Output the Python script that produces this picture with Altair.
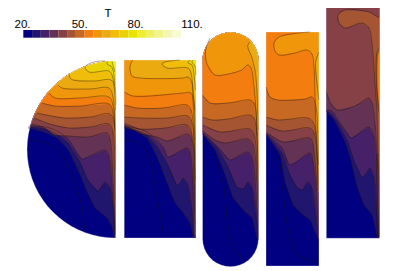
import numpy as np
import pandas as pd
import altair as alt

palette = ["#000080", "#21166e", "#462169", "#643255", "#854146", "#a55532", "#c86923", "#f37d0f",
           "#f0960a", "#ebaa0f", "#f0be0a", "#ebd205", "#e8e400", "#eeee32", "#f0f064", "#f3f38c",
           "#f6f6b4", "#fafad2"]
bar_edges = np.linspace(23.3, 181, 19)
tick_labels = ["20.", "50.", "80.", "110.", "T"]
tick_x = [22.5, 79.7, 135.5, 192, 108]
tick_y = [25, 25, 25, 25, 13.5]

# Contours: (palette index above the line, start mode, points in picture pixels)
p1 = [
 (1, "L", [(28,128),(43,132),(57,138),(68,150),(78,170),(87,192),(95,208),(107,218),(112,227),(114,238)]),
 (2, "L", [(28,127),(45,129),(58,135),(68,143),(80,162),(88,180),(98,191),(105,182),(110,188),(113,207),(115,235)]),
 (3, "L", [(29,126),(50,128),(67,138),(82,159),(88,157),(105,150),(109,157),(112,187),(115,233)]),
 (4, "L", [(31,124),(43,127),(55,135),(69,136),(88,137),(107,133),(110,139),(113,180),(115.5,230)]),
 (5, "L", [(34,118),(50,124),(69,128),(90,127),(109,124),(113,133),(114.5,170),(115.5,200)]),
 (6, "L", [(37,113),(65,118),(90,117),(110,114),(114,122),(115.5,170)]),
 (7, "L", [(42,103),(55,106),(80,106),(109,104),(113,112),(115,150)]),
 (8, "L", [(49,93),(55,98),(80,98),(109,97),(113,105),(115,130)]),
 (9, "L", [(58,85),(62,88),(90,89),(109,88),(113,97),(115,125)]),
 (10, "L", [(69,73),(71,79),(94,81),(111,80),(115,87),(115.5,110)]),
 (11, "T", [(105,61),(94,62),(85,67),(89,72),(109,71),(112,75),(114,85),(115.5,105)]),
 (12, "T", [(108,61),(107,64),(111,66),(113,70),(115,85)]),
 (13, "T", [(112,61),(113,65),(115,72)]),
]
p1_extra = [[(28,139),(43,142),(57,148),(65,160),(75,183),(82,207),(85,232)]]

p2 = [
 (1, "L", [(124.3,128.3),(133,130),(147,138),(157,157),(167,183),(175,203),(183,213),(190,223),(193,237)]),
 (2, "L", [(124.3,127),(147,135),(158,148),(168,165),(177,185),(180,183),(183,178),(188,185),(192,210),(193.5,237)]),
 (3, "L", [(124.3,126),(147,132),(163,147),(168,157),(187,148),(190,153),(193,187),(194,235)]),
 (4, "L", [(124.3,125),(143,134),(157,137),(167,141),(188,134),(192,140),(194,177),(194.7,220)]),
 (5, "L", [(124.3,123),(140,129),(165,128),(187,125),(192,135),(194.5,170),(195,210)]),
 (6, "L", [(124.3,117),(140,118),(167,118),(188,116),(192,122),(195,190)]),
 (7, "L", [(124.3,105),(137,108),(163,108),(187,105),(191,110),(194.5,150),(195.5,180)]),
 (8, "L", [(124.3,92),(133,96),(183,93),(190,92.5),(193,97),(195,160)]),
 (9, "T", [(132.7,60),(130,67),(132,76),(140,78),(183,78),(188,77),(192,83),(193,100),(195,140)]),
 (10, "T", [(180,60),(165,62),(162,64),(167,68),(188,68),(191,73),(193,90),(195,110)]),
 (11, "T", [(190,60),(188,63),(192,65),(194,75),(195.5,90)]),
 (12, "T", [(193,60),(192,62),(195,66),(195.8,75)]),
]
p2_extra = [[(124.3,140),(140,143),(148,155),(157,197),(164,237)]]

p3 = [
 (1, "L", [(203,135),(215,150),(225,175),(233,198),(245,212),(252,218),(256,235),(257.5,240)]),
 (2, "L", [(203,134),(217,148),(228,167),(237,187),(243,189),(248,182),(252,188),(257,222),(258,237)]),
 (3, "L", [(203,133),(218,147),(230,160),(235,158),(248,152),(252,158),(257,212)]),
 (4, "L", [(203,131),(215,140),(225,143),(248,139),(253,145),(257,182)]),
 (5, "L", [(203,125),(220,132),(250,129),(254,134),(257,165)]),
 (6, "L", [(202.5,117),(212,120),(228,119),(250,115),(254,118),(257,135)]),
 (7, "L", [(202.5,95),(210,103),(228,103),(250,100),(254,103),(257,132),(258,170)]),
 (8, "L", [(210,38),(205.7,50),(206.7,63),(215,75),(228,74),(241.7,70),(247.7,65),(251,68),(254,87),(256,110),(257,132),(258,170),(258.3,200)]),
 (9, "T", [(250,42),(247.7,46),(251.7,57),(255,70),(256.7,87),(257.7,110),(258.3,130)]),
]
p3_extra = [[(202.5,142),(213,152),(223,182),(228,225),(235,250),(245,260)]]

p4 = [
 (1, "L", [(266,134.5),(280,155),(285,182),(293,205),(303,215),(310,220),(315,232),(319,240)]),
 (2, "L", [(266,134),(282,153),(290,175),(297,187),(302,190),(308,182),(312,188),(317,225),(318,238)]),
 (3, "L", [(266,133.5),(282,148),(290,165),(310,153),(313,162),(318,218)]),
 (4, "L", [(266,132),(283,142),(310,138),(313,145),(317,192)]),
 (5, "L", [(266,125),(282,131),(310,128),(314,133),(318,190)]),
 (6, "L", [(266,117),(278,120),(308,118),(313,122),(316,133),(318,185)]),
 (7, "L", [(266,87),(270,97),(278,100),(305,99),(312,97),(316,107),(317.7,133),(318.5,165)]),
 (8, "T", [(310,32),(299,33),(279,37),(274,43),(275,51),(279,55),(295,53),(307,50),(312,54),(314,68),(315,95),(316,128),(318,170)]),
 (9, "R", [(319,52),(315.7,62),(317.7,90),(319,100)]),
]
p4_extra = [[(266,145),(277,155),(283,192),(290,238),(298,255),(318,262)]]

p5 = [
 (1, "L", [(326.3,112),(334,120),(344,140),(350,157),(357,187),(364,205),(372,215),(375,227),(377,237)]),
 (2, "L", [(326.3,111),(330,113),(336,120),(347,140),(355,163),(362,177),(365,175),(370,168),(374,177),(377,217),(378.7,237)]),
 (3, "L", [(326.3,110),(332,111),(338,120),(345,130),(351,138),(369,127),(374,137),(377,180),(379,237)]),
 (4, "L", [(326.3,91),(330,102),(337,110),(355,106),(369,98),(372,103),(375,123),(378,170)]),
 (5, "R", [(379,18),(369,12),(345,10),(338,15),(339,23),(345,28),(362,23),(369,28),(372,43),(375,83),(377,113),(378,150),(379,190)]),
 (6, "R", [(379.3,48),(377,52),(376,67),(377,93),(378.7,113)]),
 (7, "R", [(379.3,50),(377.5,55),(377,85),(379,110)]),
]
p5_extra = [[(377,153),(377,237)]]


def rect(x0, x1, y0, y1):
    return [(x0, y0), (x1, y0), (x1, y1), (x0, y1)]


def quarter(cx, cy, r):
    a = np.radians(np.arange(90, 271, 5))
    return [(cx, cy - r)] + [(cx + r * np.cos(t), cy - r * np.sin(t)) for t in a[1:-1]] + [(cx, cy + r)]


def stadium(x0, x1, y0, y1):
    r = (x1 - x0) / 2
    cx = (x0 + x1) / 2
    top = np.radians(np.arange(0, 181, 10))
    pts = [(cx + r * np.cos(t), y0 + r - r * np.sin(t)) for t in top]
    pts += [(cx - r * np.cos(t), y1 - r + r * np.sin(t)) for t in top]
    return pts


def clip(poly, shape):
    xs = [p[0] for p in shape]
    ys = [p[1] for p in shape]
    cx, cy = np.mean(xs), np.mean(ys)
    out = poly
    for i in range(len(shape)):
        a, b = shape[i], shape[(i + 1) % len(shape)]
        side = lambda p: (b[0] - a[0]) * (p[1] - a[1]) - (b[1] - a[1]) * (p[0] - a[0])
        s0 = side((cx, cy))
        inside = lambda p: side(p) * s0 >= 0
        res = []
        for j in range(len(out)):
            p, q = out[j], out[(j + 1) % len(out)]
            ip, iq = inside(p), inside(q)
            if ip:
                res.append(p)
            if ip != iq:
                sp, sq = side(p), side(q)
                t = sp / (sp - sq)
                res.append((p[0] + t * (q[0] - p[0]), p[1] + t * (q[1] - p[1])))
        out = res
        if not out:
            break
    return out


panels = [
    (p1, p1_extra, quarter(115.5, 149.5, 88.5)),
    (p2, p2_extra, rect(124.2, 196, 60, 238)),
    (p3, p3_extra, stadium(202.5, 258.5, 32.3, 266.7)),
    (p4, p4_extra, rect(266, 319, 32, 266)),
    (p5, p5_extra, rect(326.3, 379.5, 4.3, 238.3)),
]

fills, lines, outlines = [], [], []
pid = lid = 0
for pn, (cont, extra, shape) in enumerate(panels):
    xs = [p[0] for p in shape]
    ys = [p[1] for p in shape]
    xl, xr, yt = min(xs) - 30, max(xs) + 30, min(ys) - 30
    polys = [(0, shape)]
    for idx, mode, pts in cont:
        poly = list(pts) + [(xr, pts[-1][1]), (xr, yt)]
        if mode == "L":
            poly += [(xl, yt), (xl, pts[0][1])]
        elif mode == "T":
            poly += [(pts[0][0], yt)]
        polys.append((idx, clip(poly, shape)))
        lines.append(pts)
    lines.extend(extra)
    for idx, poly in polys:
        pid += 1
        for k, (x, y) in enumerate(poly):
            fills.append({"poly": f"{pid:03d}", "seq": k, "x": float(x), "y": float(y), "col": palette[idx]})
    for k, (x, y) in enumerate(list(shape) + [shape[0]]):
        outlines.append({"panel": pn, "seq": k, "x": float(x), "y": float(y)})

line_rows = []
for pts in lines:
    lid += 1
    for k, (x, y) in enumerate(pts):
        line_rows.append({"line": lid, "seq": k, "x": x, "y": y})

xs = alt.Scale(domain=[8, 399], nice=False, zero=False)
ys = alt.Scale(domain=[268, 8], nice=False, zero=False)
X = alt.X("x:Q", scale=xs, axis=None)
Y = alt.Y("y:Q", scale=ys, axis=None)

fill_layer = alt.Chart(pd.DataFrame(fills)).mark_line(strokeWidth=0).encode(
    X, Y, fill=alt.Fill("col:N", scale=None), detail="poly:N", order="seq:Q")
line_layer = alt.Chart(pd.DataFrame(line_rows)).mark_line(
    color="#1a1208", strokeWidth=0.6, opacity=0.65, interpolate="catmull-rom").encode(
    X, Y, detail="line:N", order="seq:Q")
edge_layer = alt.Chart(pd.DataFrame(outlines)).mark_line(color="#ffffff", strokeWidth=1, opacity=0.3).encode(
    X, Y, detail="panel:N", order="seq:Q")

bars = pd.DataFrame({"x": bar_edges[:-1], "x2": bar_edges[1:], "y": 30.0, "y2": 37.7, "col": palette})
bar_layer = alt.Chart(bars).mark_rect(strokeWidth=0).encode(
    X, x2="x2:Q", y=Y, y2="y2:Q", fill=alt.Fill("col:N", scale=None))

texts = pd.DataFrame({"x": tick_x, "y": tick_y, "t": tick_labels})
text_layer = alt.Chart(texts).mark_text(font="Liberation Sans", fontSize=11.5, color="#000000", align="center",
                                        baseline="middle").encode(X, Y, text="t:N")

chart = alt.layer(fill_layer, line_layer, edge_layer, bar_layer, text_layer).properties(
    width=391, height=260, padding=0, autosize=alt.AutoSizeParams(type="none")
).configure_view(stroke=None)
chart.save("out.html", embed_options={"renderer": "svg", "actions": False})
